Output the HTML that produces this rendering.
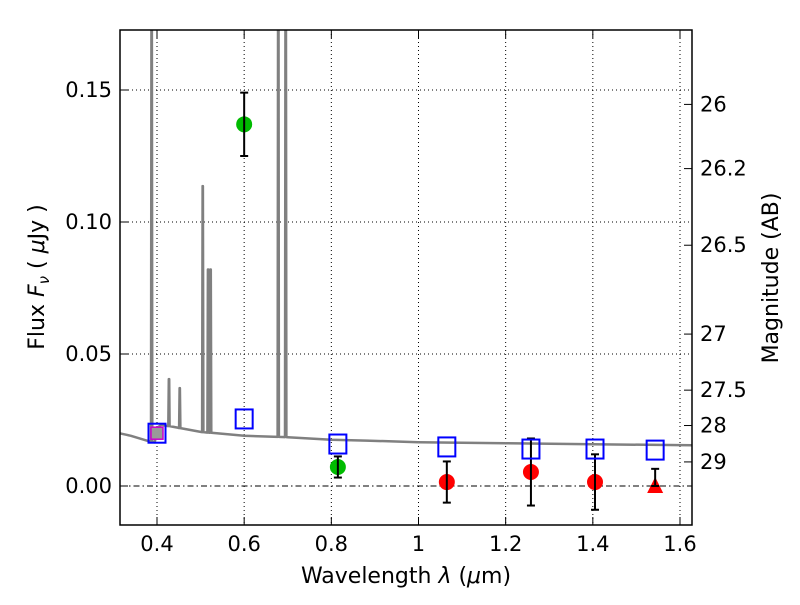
<!DOCTYPE html>
<html><head><meta charset="utf-8"><style>
body{margin:0;background:#fff}
svg text{font-family:"DejaVu Sans","Liberation Sans",sans-serif;fill:#000}
</style></head><body>
<svg id="chart" width="800" height="600" viewBox="0 0 800 600" xmlns="http://www.w3.org/2000/svg">
<defs><clipPath id="pc"><rect x="120" y="30" width="572" height="495"/></clipPath></defs>
<rect x="0" y="0" width="800" height="600" fill="#fff"/>
<g id="grid"></g>
<g id="spec" clip-path="url(#pc)"></g>
<g id="marks"></g>
<rect x="120" y="30" width="572" height="495" fill="none" stroke="#000" stroke-width="1.5"/>
<g id="axes"></g>
<text x="406" y="583" font-size="22" text-anchor="middle">Wavelength  <tspan font-style="italic">λ</tspan> (<tspan font-style="italic">μ</tspan>m)</text>
<text transform="translate(44,277) rotate(-90)" font-size="22" text-anchor="middle">Flux  <tspan font-style="italic">F</tspan><tspan font-style="italic" font-size="15" dy="5">ν</tspan><tspan dy="-5">  ( </tspan><tspan font-style="italic">μ</tspan>Jy )</text>
<text transform="translate(778,278) rotate(-90)" font-size="22" text-anchor="middle">Magnitude (AB)</text>
</svg>
<script>
const xTicks=[0.4,0.6,0.8,1.0,1.2,1.4,1.6];
const xTickLabels=["0.4","0.6","0.8","1","1.2","1.4","1.6"];
const yTicks=[0,0.05,0.10,0.15];
const yTickLabels=["0.00","0.05","0.10","0.15"];
const magTicks=[26,26.2,26.5,27,27.5,28,29];
const magTickLabels=["26","26.2","26.5","27","27.5","28","29"];
const contLam=[0.30,0.34,0.38,0.395,0.40,0.41,0.45,0.50,0.60,0.70,0.80,0.88,1.0,1.2,1.4,1.65];
const contFlux=[0.0205,0.019,0.017,0.0165,0.022,0.0232,0.022,0.0205,0.019,0.0185,0.0175,0.0172,0.0166,0.0162,0.0158,0.0154];
const lineLam=[0.3877,0.4275,0.4522,0.5050,0.5172,0.523,0.6783,0.6953];
const linePeak=[0.2,0.0405,0.0371,0.1136,0.082,0.082,0.2,0.2];
const greenLam=[0.6,0.815];
const greenFlux=[0.137,0.0072];
const greenErr=[0.012,0.004];
const redLam=[1.065,1.258,1.405];
const redFlux=[0.0015,0.0053,0.0015];
const redErr=[0.0078,0.0127,0.0105];
const triLam=[1.543];
const triFlux=[0.0];
const triErrUp=[0.0065];
const modelLam=[0.4,0.6,0.815,1.065,1.258,1.405,1.543];
const modelFlux=[0.020,0.0254,0.0159,0.0148,0.014,0.014,0.0136];

const X=l=>157+(l-0.4)*435.83;
const Y=f=>486-f*2640;
const NS="http://www.w3.org/2000/svg";
function mk(p,t,a){const e=document.createElementNS(NS,t);for(const k in a)e.setAttribute(k,a[k]);p.appendChild(e);return e;}
const grid=document.getElementById('grid'),axes=document.getElementById('axes'),spec=document.getElementById('spec'),marks=document.getElementById('marks');
xTicks.forEach((v,i)=>{const x=X(v);
 const g=mk(grid,'line',{x1:x,x2:x,y1:30,y2:525,stroke:'#000','stroke-width':1,'stroke-dasharray':'1,3'});
 
 mk(axes,'line',{x1:x,x2:x,y1:525,y2:517,stroke:'#000'});mk(axes,'line',{x1:x,x2:x,y1:30,y2:38,stroke:'#000'});
 const t=mk(axes,'text',{x:x,y:551,'font-size':21,'text-anchor':'middle'});t.textContent=xTickLabels[i];
 });
yTicks.forEach((v,i)=>{const y=Y(v);
 const g=mk(grid,'line',{x1:120,x2:692,y1:y,y2:y,stroke:'#000','stroke-width':1,'stroke-dasharray':v===0?'6,3,1.5,3':'1,3'});
 
 mk(axes,'line',{x1:120,x2:128,y1:y,y2:y,stroke:'#000'});
 const t=mk(axes,'text',{x:112,y:y+7,'font-size':21,'text-anchor':'end'});t.textContent=yTickLabels[i];
 });
magTicks.forEach((m,i)=>{const y=Y(Math.pow(10,(23.9-m)/2.5));
 mk(axes,'line',{x1:692,x2:684,y1:y,y2:y,stroke:'#000'});
 const t=mk(axes,'text',{x:700,y:y+7,'font-size':21});t.textContent=magTickLabels[i];
 });
function cont(l){for(let i=0;i<contLam.length-1;i++){if(l<=contLam[i+1]){const t=(l-contLam[i])/(contLam[i+1]-contLam[i]);return contFlux[i]+t*(contFlux[i+1]-contFlux[i]);}}return contFlux[contFlux.length-1];}
let pts=contLam.map(l=>[l,cont(l)]);
lineLam.forEach((l,i)=>{pts.push([l-0.0015,cont(l)]);pts.push([l-0.0004,linePeak[i]]);pts.push([l+0.0004,linePeak[i]]);pts.push([l+0.0015,cont(l)]);});
pts.sort((a,b)=>a[0]-b[0]);
const sp=mk(spec,'polyline',{points:pts.map(p=>X(p[0]).toFixed(1)+','+Y(p[1]).toFixed(1)).join(' '),fill:'none',stroke:'#808080','stroke-width':2.5,'stroke-linejoin':'round'});

function err(x,y1,y2){mk(marks,'line',{x1:x,x2:x,y1:y1,y2:y2,stroke:'#000','stroke-width':2});
 mk(marks,'line',{x1:x-4,x2:x+4,y1:y1,y2:y1,stroke:'#000','stroke-width':2});mk(marks,'line',{x1:x-4,x2:x+4,y1:y2,y2:y2,stroke:'#000','stroke-width':2});}
greenLam.forEach((l,i)=>{const c=mk(marks,'circle',{cx:X(l),cy:Y(greenFlux[i]),r:8,fill:'#00bb00'});
 
 err(X(l),Y(greenFlux[i]+greenErr[i]),Y(greenFlux[i]-greenErr[i]));});
redLam.forEach((l,i)=>{const c=mk(marks,'circle',{cx:X(l),cy:Y(redFlux[i]),r:8,fill:'#ff0000'});
 
 err(X(l),Y(redFlux[i]+redErr[i]),Y(redFlux[i]-redErr[i]));});
triLam.forEach((l,i)=>{const x=X(l),y=Y(triFlux[i]);
 const p=mk(marks,'polygon',{points:`${x},${y-9} ${x-8},${y+7} ${x+8},${y+7}`,fill:'#ff0000'});
 
 err(x,Y(triFlux[i]+triErrUp[i]),y);});
{const x=X(modelLam[0]),y=Y(modelFlux[0]);
 const m=mk(marks,'rect',{x:x-6,y:y-6,width:12,height:12,fill:'#999',stroke:'#cc00cc','stroke-width':1.5});
 }
modelLam.forEach((l,i)=>{const s=mk(marks,'rect',{x:X(l)-8.5,y:Y(modelFlux[i])-9.5,width:17,height:19,fill:'none',stroke:'#0000ff','stroke-width':2});
 });
</script>
</body></html>
